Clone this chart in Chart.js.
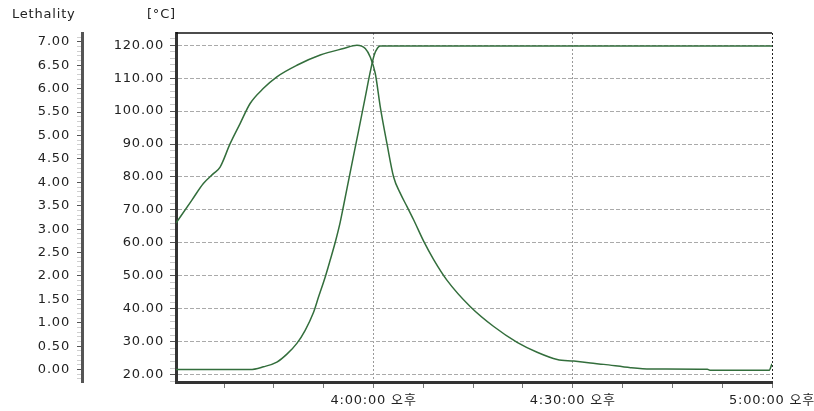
<!DOCTYPE html>
<html>
<head>
<meta charset="utf-8">
<script src="https://cdn.jsdelivr.net/npm/chart.js@4.4.0/dist/chart.umd.min.js"></script>
<style>
  html, body { margin: 0; padding: 0; background: #fff; overflow: hidden; }
  #wrap { width: 814px; height: 411px; position: relative; }
</style>
</head>
<body>
<div id="wrap"><canvas id="myChart"></canvas></div>
<script>
// time is in minutes since midnight (960 = 4:00 PM)
var tempTime = [930.25, 932.62, 934.37, 935.88, 936.89, 938.40, 939.90, 941.41, 943.42, 945.44,
  948.45, 951.97, 955.48, 957.50, 958.75, 959.50, 960.26, 961.01, 962.02, 963.02,
  964.03, 965.04, 966.03, 967.54, 969.05, 971.07, 974.58, 978.09, 981.62, 984.63,
  987.65, 990.15, 992.67, 994.67, 998.70, 1001.71, 1010.26, 1010.76, 1019.55, 1020];
var tempValue = [66.0, 72.9, 78.0, 81.0, 83.0, 90.1, 96.2, 102.3, 106.9, 110.4,
  113.9, 117.0, 119.0, 120.0, 119.0, 116.4, 111.4, 101.3, 90.1, 80.0,
  75.0, 71.0, 67.0, 60.5, 54.9, 48.6, 40.6, 34.6, 29.8, 26.8,
  24.6, 24.1, 23.5, 23.1, 22.1, 21.7, 21.6, 21.3, 21.3, 23.3];

var lethTime = [930.25, 941.41, 943.42, 945.44, 946.95, 948.45, 949.70, 950.95, 951.71, 952.72,
  953.47, 954.23, 954.98, 955.48, 956.49, 957.74, 958.75, 959.50, 960.10, 960.60, 961.01, 1020];
var lethValue = [0, 0, 0.06, 0.16, 0.33, 0.56, 0.84, 1.22, 1.55, 1.98,
  2.34, 2.72, 3.15, 3.50, 4.22, 5.10, 5.82, 6.36, 6.72, 6.87, 6.91, 6.91];

var timeTicks = [960, 990, 1020];
var timeLabels = ['4:00:00 오후', '4:30:00 오후', '5:00:00 오후'];
var tempTicks = [20, 30, 40, 50, 60, 70, 80, 90, 100, 110, 120];
var lethTicks = [0, 0.5, 1, 1.5, 2, 2.5, 3, 3.5, 4, 4.5, 5, 5.5, 6, 6.5, 7];

var lineColor = '#336e3c';
var textFont = '13px "DejaVu Sans", "Noto Sans CJK KR", sans-serif';

// evenly spaced tick values (major + minor marks)
function steps(from, to, step) {
  var out = [];
  var n = Math.round((to - from) / step);
  for (var i = 0; i <= n; i++) out.push({ value: Math.round((from + i * step) * 1000) / 1000 });
  return out;
}
function isMajor(v, list) {
  return list.some(function (m) { return Math.abs(m - v) < 1e-6; });
}

var axisText = {
  id: 'axisText',
  afterDraw: function (chart) {
    var c = chart.ctx, a = chart.chartArea;
    var sx = chart.scales.x, st = chart.scales.temp, sl = chart.scales.leth;
    c.save();
    // top frame line
    c.strokeStyle = '#111';
    c.lineWidth = 1.5;
    c.beginPath();
    c.moveTo(a.left, a.top);
    c.lineTo(a.right, a.top);
    c.stroke();

    c.fillStyle = '#222';
    c.font = textFont;
    c.letterSpacing = '0.8px';
    c.textBaseline = 'middle';
    c.textAlign = 'right';
    tempTicks.forEach(function (v) { c.fillText(v.toFixed(2), st.right - 12, st.getPixelForValue(v)); });
    lethTicks.forEach(function (v) { c.fillText(v.toFixed(2), sl.right - 12, sl.getPixelForValue(v)); });
    c.textAlign = 'center';
    timeTicks.forEach(function (v, i) { c.fillText(timeLabels[i], sx.getPixelForValue(v), 401); });
    c.textAlign = 'left';
    c.fillText('Lethality', 12, 15);
    c.fillText('[°C]', 147, 15);
    c.restore();
  }
};

var ctx = document.getElementById('myChart').getContext('2d');
var myChart = new Chart(ctx, {
  type: 'line',
  data: {
    datasets: [{
      label: 'Temperature',
      data: tempTime.map(function (t, i) { return { x: t, y: tempValue[i] }; }),
      yAxisID: 'temp',
      borderColor: lineColor,
      borderWidth: 1.5,
      pointRadius: 0,
      cubicInterpolationMode: 'monotone'
    }, {
      label: 'Lethality',
      data: lethTime.map(function (t, i) { return { x: t, y: lethValue[i] }; }),
      yAxisID: 'leth',
      borderColor: lineColor,
      borderWidth: 1.5,
      pointRadius: 0,
      cubicInterpolationMode: 'monotone'
    }]
  },
  plugins: [axisText],
  options: {
    responsive: true,
    maintainAspectRatio: false,
    animation: false,
    layout: { padding: { top: 33, right: 42, left: 0, bottom: 0 } },
    plugins: { legend: { display: false }, tooltip: { enabled: false } },
    scales: {
      x: {
        type: 'linear',
        min: 930.25,
        max: 1020,
        afterBuildTicks: function (s) { s.ticks = steps(937.5, 1020, 7.5); },
        afterFit: function (s) { s.height = 29; },
        ticks: { display: false },
        grid: {
          color: function (c) {
            if (!c.tick) return 'rgba(0,0,0,0)';
            if (c.tick.value === 1020) return '#222';
            return isMajor(c.tick.value, timeTicks) ? '#999' : 'rgba(0,0,0,0)';
          },
          tickColor: '#777',
          tickLength: 6,
          lineWidth: 1
        },
        border: { color: '#333', width: 3, dash: [2, 2] }
      },
      temp: {
        position: 'left',
        weight: 0,
        min: 17.75,
        max: 123.7,
        afterBuildTicks: function (s) { s.ticks = steps(18, 122, 2); },
        afterFit: function (s) { s.width = 94; },
        ticks: { display: false },
        grid: {
          color: function (c) {
            return c.tick && isMajor(c.tick.value, tempTicks) ? '#aaa' : 'rgba(0,0,0,0)';
          },
          tickColor: function (c) {
            return c.tick && isMajor(c.tick.value, tempTicks) ? '#555' : '#c8c8c8';
          },
          tickLength: 6,
          lineWidth: 1
        },
        border: { color: '#333', width: 3, dash: [4, 2] }
      },
      leth: {
        position: 'left',
        weight: 1,
        min: -0.265,
        max: 7.19,
        afterBuildTicks: function (s) { s.ticks = steps(-0.2, 7.1, 0.1); },
        afterFit: function (s) { s.width = 82; },
        ticks: { display: false },
        grid: {
          drawOnChartArea: false,
          tickColor: function (c) {
            return c.tick && isMajor(c.tick.value, lethTicks) ? '#555' : '#cfcfcf';
          },
          tickLength: 5
        },
        border: { color: '#555', width: 3 }
      }
    }
  }
});
</script>
</body>
</html>
